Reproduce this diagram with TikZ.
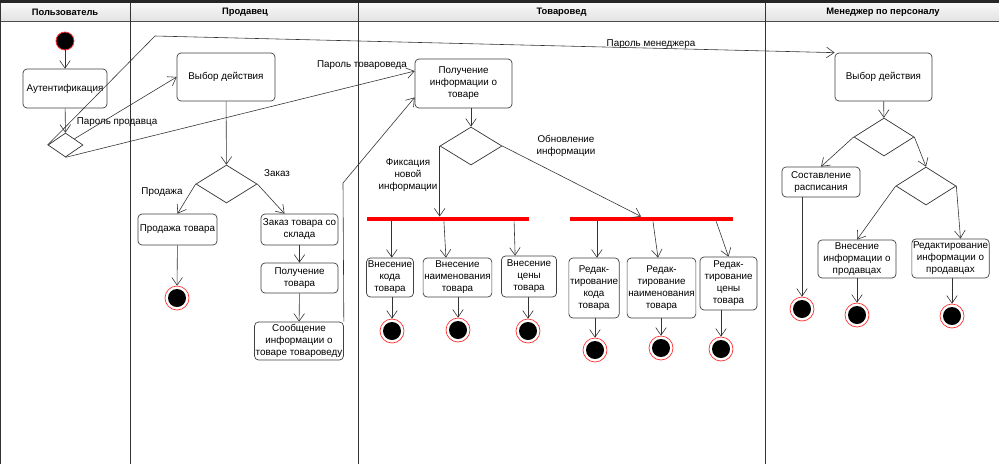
\documentclass[tikz,border=0pt]{standalone}
\usepackage{fontspec}
\setmainfont{Liberation Sans}
\usetikzlibrary{arrows.meta,shapes.geometric,calc}
\newdimen\px \px=0.03cm
\tikzset{
  act/.style n args={2}{draw=black!75, line width=0.6pt, rounded corners=4\px,
    align=center, inner sep=1pt, minimum width=#1\px, minimum height=#2\px},
  dec/.style n args={2}{shape=diamond, draw=black!80, line width=0.6pt,
    minimum width=#1\px, minimum height=#2\px, inner sep=0pt},
  initst/.style={circle, fill=black, draw=red!80, line width=0.7pt,
    minimum size=18\px, inner sep=0pt},
  finst/.style={circle, draw=red!80, line width=0.6pt, fill=white,
    minimum size=24\px, inner sep=0pt,
    path picture={\fill[black] (path picture bounding box.center) circle[radius=9\px];}},
  barst/.style={fill=red, draw=none, minimum width=#1\px, minimum height=4.5\px, inner sep=0pt},
  arr/.style={draw=black!80, line width=0.5pt, -{Straight Barb[length=6.5pt,width=9pt]}},
  lane/.style={draw=black!80, line width=0.8pt},
  lbl/.style={align=center, inner sep=0pt},
  hdr/.style={inner sep=0pt, font=\fontsize{8}{10}\selectfont\bfseries}
}
\begin{document}
\begin{tikzpicture}[x=0.03cm,y=-0.03cm, font=\fontsize{8.4}{10.2}\selectfont]
\useasboundingbox (0,0) rectangle (999,464);
\fill[white] (0,0) rectangle (999,464);
\shade[top color=gray!6, bottom color=gray!22] (0,3) rectangle (999,21);
\fill[black!85] (0,0) rectangle (999,3);
\draw[black!70, line width=0.6pt] (0,21) -- (999,21);
\foreach \xx in {0.6,130,358,765} \draw[lane] (\xx,3) -- (\xx,464);

% headers
\node[hdr] (h1) at (65,12.5) {Пользователь};
\node[hdr] (h2) at (245,12.5) {Продавец};
\node[hdr] (h3) at (561.5,12.5) {Товаровед};
\node[hdr] (h4) at (883,12.5) {Менеджер по персоналу};

% user lane
\node[initst] (st) at (65,41) {};
\node[act={84}{39}] (auth) at (65,88.5) {Аутентификация};
\node[dec={35}{24}] (d0) at (65.5,145) {};

% seller lane
\node[act={98}{48}] (selsel) at (226,77) {Выбор действия};
\node[dec={61}{38}] (d1) at (226.5,184) {};
\node[act={79}{31}] (sale) at (177.5,229.5) {Продажа товара};
\node[act={77}{31}] (order) at (299.5,229.5) {Заказ товара со\\склада};
\node[act={77}{30}] (recv) at (299.5,278) {Получение\\товара};
\node[act={88}{38}] (msg) at (299,341) {Сообщение\\информации о\\товаре товароведу};
\node[finst] (f1) at (177,298) {};

% merchandiser lane
\node[act={97}{49}] (info) at (463.5,83.5) {Получение\\информации о\\товаре};
\node[dec={62}{38}] (d2) at (471,146) {};
\node[barst=162] (bar1) at (448,219) {};
\node[barst=163] (bar2) at (651.5,219) {};
\node[act={47}{39}] (b1) at (390,277.5) {Внесение\\кода\\товара};
\node[act={67}{39}] (b2) at (457.5,277.5) {Внесение\\наименования\\товара};
\node[act={55}{41}] (b3) at (529,276.5) {Внесение\\цены\\товара};
\node[act={48}{60}] (b4) at (594,288) {Редак-\\тирование\\кода\\товара};
\node[act={67}{60}] (b5) at (661.5,288) {Редак-\\тирование\\наименования\\товара};
\node[act={57}{53}] (b6) at (728.5,283.5) {Редак-\\тирование\\цены\\товара};
\node[finst] (fb1) at (392,331) {};
\node[finst] (fb2) at (458,330) {};
\node[finst] (fb3) at (528,331) {};
\node[finst] (fb4) at (595,350) {};
\node[finst] (fb5) at (661,348) {};
\node[finst] (fb6) at (721,349) {};

% manager lane
\node[act={97}{48}] (mgrsel) at (883.5,77) {Выбор действия};
\node[dec={60}{38}] (d3) at (884,137) {};
\node[dec={60}{38}] (d4) at (926,186) {};
\node[act={78}{30}] (sched) at (821,182) {Составление\\расписания};
\node[act={78}{38}] (addinfo) at (857,259) {Внесение\\информации о\\продавцах};
\node[act={77}{39}] (editinfo) at (950.5,258.5) {Редактирование\\информации о\\продавцах};
\node[finst] (fs) at (802,309) {};
\node[finst] (fa) at (857,315) {};
\node[finst] (fe) at (952,316) {};

% labels
\node[lbl] (l1) at (117,122) {Пароль продавца};
\node[lbl] (l2) at (362,65) {Пароль товароведа};
\node[lbl] (l3) at (651,44) {Пароль менеджера};
\node[lbl] (l4) at (277,173) {Заказ};
\node[lbl] (l5) at (162,192) {Продажа};
\node[lbl] (l6) at (408,175) {Фиксация\\новой\\информации};
\node[lbl] (l7) at (566,146) {Обновление\\информации};

% connectors: user lane
\draw[arr] (st) -- (auth);
\draw[arr] (auth) -- (d0);
\coordinate (bend1) at (155,36);
\draw[arr] (d0.west) -- (bend1) -- (mgrsel.north west);
\draw[arr] (d0.north east) -- (selsel.west);
\draw[arr] (d0.south) -- ($(info.north west)!0.25!(info.south west)$);

% seller lane
\draw[arr] (selsel) -- (d1);
\draw[arr] (d1.west) -- (sale.north);
\draw[arr] (d1.east) -- ([xshift=-15\px]order.north);
\draw[arr] (sale) -- (f1);
\draw[arr] (order) -- (recv);
\draw[arr] (recv) -- (msg);
\coordinate (bend2) at (343,183);
\draw[arr] (msg.north east) -- (bend2) -- ($(info.north west)!0.78!(info.south west)$);

% merchandiser lane
\draw[arr] (info.south -| d2.north) -- (d2.north);
\draw[arr] (d2.west) -- (d2.west |- bar1.north);
\draw[arr] (d2.east) -- ($(bar2.north west)!0.436!(bar2.north east)$);
\coordinate (p1) at ($(bar1.south west)!0.154!(bar1.south east)$);
\coordinate (p2) at ($(bar1.south west)!0.475!(bar1.south east)$);
\coordinate (p3) at ($(bar1.south west)!0.907!(bar1.south east)$);
\coordinate (q1) at ($(bar2.south west)!0.166!(bar2.south east)$);
\coordinate (q2) at ($(bar2.south west)!0.509!(bar2.south east)$);
\coordinate (q3) at ($(bar2.south west)!0.896!(bar2.south east)$);
\draw[arr] (p1) -- (p1 |- b1.north);
\draw[arr] (p2) -- ([xshift=2\px]p2 |- b2.north);
\draw[arr] (p3) -- ([xshift=1\px]p3 |- b3.north);
\draw[arr] (q1) -- (q1 |- b4.north);
\draw[arr] (q2) -- ([xshift=-3.5\px]b5.north);
\draw[arr] (q3) -- (b6.north);
\draw[arr] (b1.south -| fb1) -- (fb1);
\draw[arr] (b2.south -| fb2) -- (fb2);
\draw[arr] (b3.south -| fb3) -- (fb3);
\draw[arr] (b4.south -| fb4) -- (fb4);
\draw[arr] (b5.south -| fb5) -- (fb5);
\draw[arr] (b6.south -| fb6) -- (fb6);

% manager lane
\draw[arr] (mgrsel) -- (d3);
\draw[arr] (d3.west) -- (sched.north);
\draw[arr] (d3.east) -- (d4.north);
\draw[arr] (d4.west) -- (addinfo.north);
\draw[arr] (d4.east) -- ([xshift=10\px]editinfo.north);
\draw[arr] (sched.south -| fs) -- (fs);
\draw[arr] (addinfo.south -| fa) -- (fa);
\draw[arr] (editinfo.south -| fe) -- (fe);
\end{tikzpicture}
\end{document}
